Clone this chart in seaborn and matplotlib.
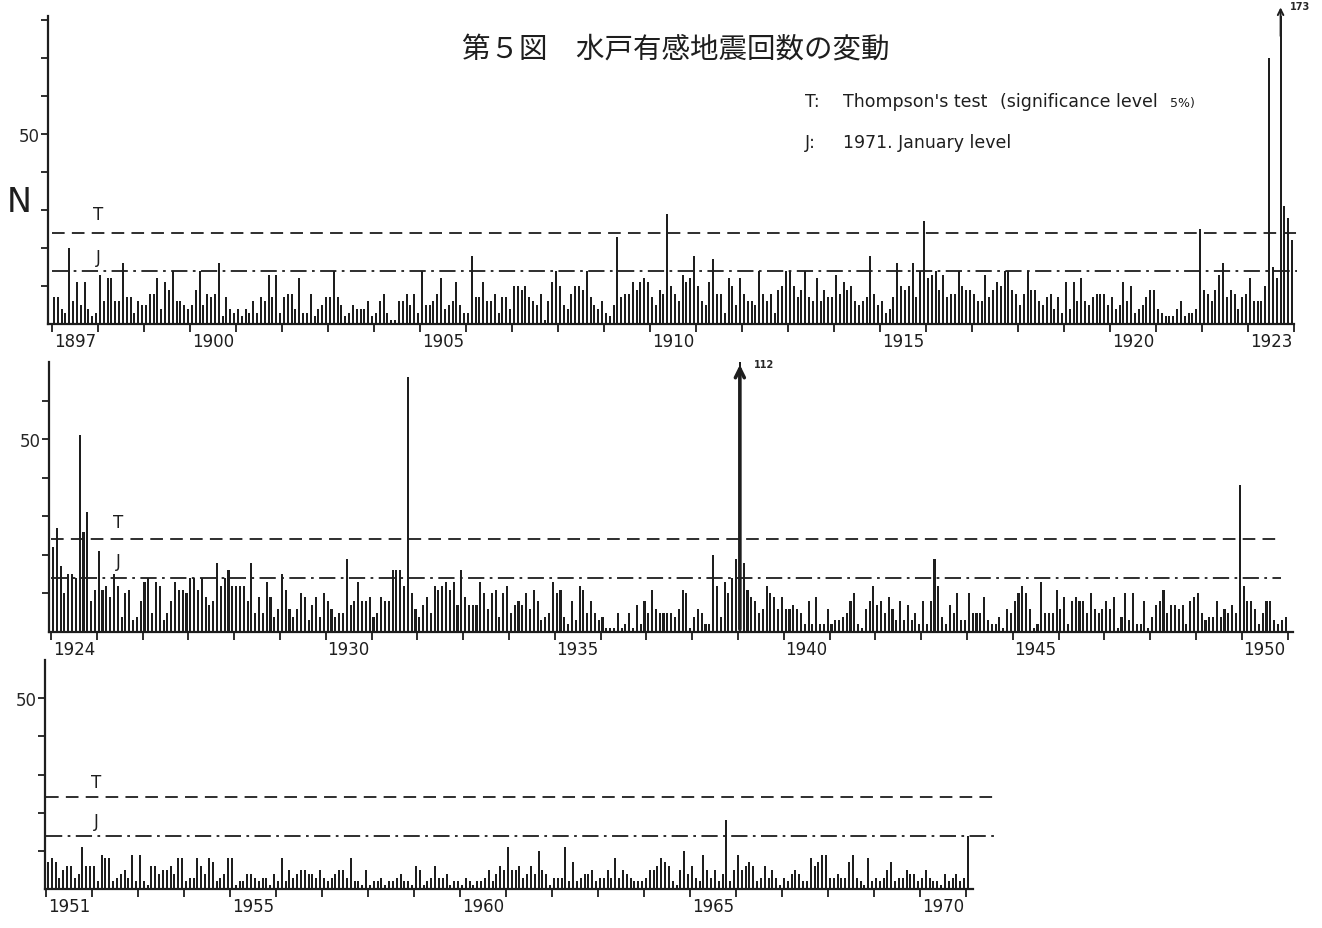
import numpy as np
import pandas as pd
import seaborn as sns
import matplotlib.pyplot as plt

# Monthly number of felt earthquakes at Mito, one row per year (Jan..Dec)
n_1897_1923 = [
    7, 7, 4, 3, 20, 6, 11, 5, 11, 4, 2, 3,
    13, 6, 12, 12, 6, 6, 16, 7, 7, 3, 6, 5,
    5, 8, 8, 12, 4, 11, 9, 14, 6, 6, 5, 4,
    5, 9, 14, 5, 8, 7, 8, 16, 2, 7, 4, 3,
    4, 2, 4, 3, 6, 3, 7, 6, 13, 7, 13, 3,
    7, 8, 8, 4, 12, 3, 3, 8, 2, 4, 5, 7,
    7, 14, 7, 5, 2, 3, 5, 4, 4, 4, 6, 2,
    3, 6, 8, 3, 1, 1, 6, 6, 8, 5, 8, 3,
    14, 5, 5, 6, 8, 12, 4, 5, 6, 11, 5, 3,
    3, 18, 7, 7, 11, 6, 6, 8, 3, 7, 7, 4,
    10, 10, 9, 10, 7, 6, 5, 8, 1, 6, 11, 14,
    10, 5, 4, 8, 10, 10, 9, 14, 7, 5, 4, 6,
    3, 2, 5, 23, 7, 8, 8, 11, 9, 11, 12, 11,
    7, 5, 9, 8, 29, 10, 8, 6, 13, 11, 12, 18,
    10, 6, 5, 11, 17, 8, 8, 3, 12, 10, 5, 12,
    8, 6, 6, 5, 14, 8, 6, 8, 3, 9, 10, 14,
    14, 10, 7, 9, 14, 7, 6, 12, 6, 9, 7, 7,
    13, 8, 11, 9, 10, 6, 5, 6, 7, 18, 8, 5,
    6, 3, 4, 7, 16, 10, 9, 10, 16, 7, 14, 27,
    12, 13, 14, 9, 13, 7, 8, 8, 14, 10, 9, 9,
    8, 6, 6, 13, 7, 9, 11, 10, 14, 14, 9, 8,
    5, 8, 14, 9, 9, 6, 5, 7, 8, 4, 7, 3,
    11, 4, 11, 6, 12, 6, 5, 7, 8, 8, 8, 5,
    7, 4, 5, 11, 6, 10, 3, 4, 5, 7, 9, 9,
    4, 3, 2, 2, 2, 4, 6, 2, 3, 3, 4, 25,
    9, 8, 6, 9, 13, 16, 7, 9, 8, 4, 7, 8,
    12, 6, 6, 6, 10, 70, 15, 12, 173, 31, 28, 22,
]
n_1924_1950 = [
    22, 27, 17, 10, 15, 15, 14, 51, 26, 31, 8, 11,
    21, 11, 12, 9, 15, 12, 4, 10, 11, 3, 4, 8,
    13, 14, 5, 13, 12, 3, 5, 8, 13, 11, 11, 10,
    14, 14, 11, 14, 9, 7, 8, 18, 12, 14, 16, 12,
    12, 12, 12, 8, 18, 5, 9, 5, 13, 9, 4, 6,
    15, 11, 6, 4, 6, 10, 9, 3, 7, 9, 4, 10,
    8, 6, 4, 5, 5, 19, 7, 8, 13, 8, 8, 9,
    4, 5, 9, 8, 8, 16, 16, 16, 12, 66, 10, 6,
    4, 7, 9, 5, 12, 11, 12, 13, 11, 13, 7, 16,
    9, 7, 7, 7, 13, 10, 6, 10, 11, 4, 10, 12,
    5, 7, 8, 7, 10, 6, 11, 8, 3, 4, 5, 13,
    10, 11, 4, 2, 8, 3, 12, 11, 5, 8, 5, 3,
    4, 1, 1, 1, 5, 1, 2, 5, 1, 7, 2, 8,
    5, 11, 6, 5, 5, 5, 5, 4, 6, 11, 10, 1,
    4, 6, 5, 2, 2, 20, 12, 4, 13, 10, 14, 19,
    112, 18, 11, 9, 8, 5, 6, 12, 10, 9, 6, 9,
    6, 6, 7, 6, 5, 2, 8, 2, 9, 2, 2, 6,
    2, 3, 3, 4, 5, 8, 10, 2, 1, 6, 8, 12,
    7, 8, 5, 9, 6, 3, 8, 3, 7, 3, 5, 2,
    8, 2, 8, 19, 12, 4, 2, 7, 5, 10, 3, 3,
    10, 5, 5, 5, 9, 3, 2, 2, 4, 1, 6, 5,
    8, 10, 12, 10, 6, 1, 2, 13, 5, 5, 5, 11,
    6, 9, 2, 8, 9, 8, 8, 5, 10, 6, 5, 6,
    8, 6, 9, 1, 4, 10, 3, 10, 2, 2, 8, 1,
    4, 7, 8, 11, 5, 7, 7, 6, 7, 2, 8, 9,
    10, 5, 3, 4, 4, 8, 4, 6, 5, 7, 5, 38,
    12, 8, 8, 6, 2, 5, 8, 8, 3, 2, 3, 4,
]
n_1951_1971 = [
    7, 8, 7, 3, 5, 6, 6, 3, 4, 11, 6, 6,
    6, 2, 9, 8, 8, 2, 3, 4, 5, 3, 9, 2,
    9, 2, 1, 6, 6, 4, 5, 5, 6, 4, 8, 8,
    2, 3, 3, 8, 6, 4, 8, 7, 2, 3, 4, 8,
    8, 1, 2, 2, 4, 4, 3, 2, 3, 3, 1, 4,
    2, 8, 2, 5, 3, 4, 5, 5, 4, 4, 3, 5,
    3, 2, 3, 4, 5, 5, 3, 8, 2, 2, 1, 5,
    1, 2, 2, 3, 1, 2, 2, 3, 4, 2, 2, 1,
    6, 5, 1, 2, 3, 6, 3, 3, 4, 1, 2, 2,
    1, 3, 2, 1, 2, 2, 3, 5, 2, 4, 6, 5,
    11, 5, 5, 6, 3, 4, 6, 4, 10, 5, 4, 1,
    3, 3, 3, 11, 2, 7, 2, 3, 4, 4, 5, 2,
    3, 3, 5, 3, 8, 3, 5, 4, 3, 2, 2, 2,
    3, 5, 5, 6, 8, 7, 6, 2, 1, 5, 10, 4,
    6, 3, 2, 9, 5, 3, 5, 2, 4, 18, 2, 5,
    9, 5, 6, 7, 6, 2, 3, 6, 3, 5, 3, 1,
    3, 2, 4, 5, 4, 2, 2, 8, 6, 7, 9, 9,
    3, 3, 4, 3, 3, 7, 9, 3, 2, 1, 8, 2,
    3, 2, 3, 5, 7, 2, 3, 3, 5, 4, 4, 2,
    3, 5, 3, 2, 2, 1, 4, 2, 3, 4, 2, 3,
    14,
]
T_LEVEL = 24  # Thompson's test, 5% significance
J_LEVEL = 14  # January 1971 level

labels_1 = [1897, 1900, 1905, 1910, 1915, 1920, 1923]
labels_2 = [1924, 1930, 1935, 1940, 1945, 1950]
labels_3 = [1951, 1955, 1960, 1965, 1970]

W, H = 1322, 929
INK = "#1e1e1e"

sns.set_style("white")
plt.rcParams["font.family"] = ["DejaVu Sans", "Noto Sans CJK JP"]

fig = plt.figure(figsize=(W / 100, H / 100), dpi=100)


def px_rect(left, right, top, bottom):
    return [left / W, 1 - bottom / H, (right - left) / W, (bottom - top) / H]


def panel(rect, start, counts, labels, xlim, ytop, line_end, spine_end, tj_pos):
    ax = fig.add_axes(rect)
    t = start + (np.arange(len(counts)) + 0.5) / 12
    df = pd.DataFrame({"t": t, "n": counts})
    sns.barplot(data=df, x="t", y="n", native_scale=True, width=0.55,
                color=INK, errorbar=None, linewidth=0, ax=ax)
    ax.set_xlim(*xlim)
    ax.set_ylim(0, ytop)
    ax.set_xlabel("")
    ax.set_ylabel("")
    for s in ["top", "right"]:
        ax.spines[s].set_visible(False)
    for s in ["left", "bottom"]:
        ax.spines[s].set_linewidth(1.6)
        ax.spines[s].set_color(INK)
    ax.spines["bottom"].set_bounds(xlim[0], spine_end)

    # year boundaries as ticks, labels centred in the year
    last = int(np.floor(spine_end))
    ax.set_xticks(np.arange(start, last + 1))
    ax.set_xticklabels([])
    ax.set_xticks([y + 0.5 for y in labels], minor=True)
    ax.set_xticklabels([str(y) for y in labels], minor=True, fontsize=12)
    ax.tick_params(axis="x", which="major", direction="out", length=6,
                   width=1.3, color=INK, bottom=True)
    ax.tick_params(axis="x", which="minor", length=0, pad=6, colors=INK)

    yt = np.arange(10, ytop, 10)
    ax.set_yticks(yt)
    ax.set_yticklabels(["50" if v == 50 else "" for v in yt], fontsize=12)
    ax.tick_params(axis="y", direction="out", length=5, width=1.3,
                   color=INK, left=True, pad=1)

    ax.hlines(T_LEVEL, start, line_end, colors=INK, lw=1.3,
              linestyles=(0, (7, 4)))
    ax.hlines(J_LEVEL, start, line_end, colors=INK, lw=1.3,
              linestyles=(0, (9, 3, 1.5, 3)))
    ax.text(tj_pos[0], T_LEVEL + tj_pos[1], "T", fontsize=12, ha="center",
            va="center", color=INK)
    ax.text(tj_pos[0], J_LEVEL + tj_pos[2], "J", fontsize=12, ha="center",
            va="center", color=INK)

    # off-scale months are marked with an arrow and their count
    for ti, ni in zip(t, counts):
        if ni > ytop:
            if ytop > 75:
                ax.annotate("", xy=(ti, ytop + 3.0), xytext=(ti, ytop - 6),
                            arrowprops=dict(arrowstyle="->", lw=1.4, color=INK,
                                            mutation_scale=10),
                            annotation_clip=False)
                ax.text(ti + 0.2, ytop + 2.6, str(ni), fontsize=7,
                        fontweight="bold", va="center", clip_on=False)
            else:
                ax.annotate("", xy=(ti, ytop), xytext=(ti, 0),
                            arrowprops=dict(arrowstyle="->", lw=2.6, color=INK,
                                            mutation_scale=16),
                            annotation_clip=False)
                ax.text(ti + 0.3, ytop - 0.5, str(ni), fontsize=7,
                        fontweight="bold", va="center", clip_on=False)
    return ax


panel(px_rect(48, 1297, 17, 325), 1897, n_1897_1923, labels_1,
      (1896.913, 1924.065), 81, 1924.065, 1924.0, (1898.0, 5.0, 3.6))
panel(px_rect(49, 1293, 363, 633), 1924, n_1924_1950, labels_2,
      (1923.956, 1951.12), 70, 1950.85, 1951.12, (1925.46, 4.6, 4.3))
panel(px_rect(45, 995, 661, 890), 1951, n_1951_1971, labels_3,
      (1950.978, 1971.63), 60, 1971.63, 1971.15, (1952.1, 4.0, 3.8))

fig.text(676 / W, 1 - 50 / H, "第５図　水戸有感地震回数の変動",
         family=["Noto Sans CJK JP", "DejaVu Sans"], fontsize=20.5,
         ha="center", va="center", color=INK)
fig.text(19 / W, 1 - 203 / H, "N", fontsize=24, ha="center", va="center",
         color=INK)

fig.text(805 / W, 1 - 102 / H, "T:", fontsize=12.5, va="center", color=INK)
fig.text(843 / W, 1 - 102 / H, "Thompson's test", fontsize=12.5, va="center",
         color=INK)
fig.text(1000 / W, 1 - 102 / H, "(significance level", fontsize=12.5,
         va="center", color=INK)
fig.text(1170 / W, 1 - 104 / H, "5%)", fontsize=9, va="center", color=INK)
fig.text(805 / W, 1 - 143 / H, "J:", fontsize=12.5, va="center", color=INK)
fig.text(843 / W, 1 - 143 / H, "1971. January level", fontsize=12.5,
         va="center", color=INK)

fig.savefig("out.png", dpi=100)
